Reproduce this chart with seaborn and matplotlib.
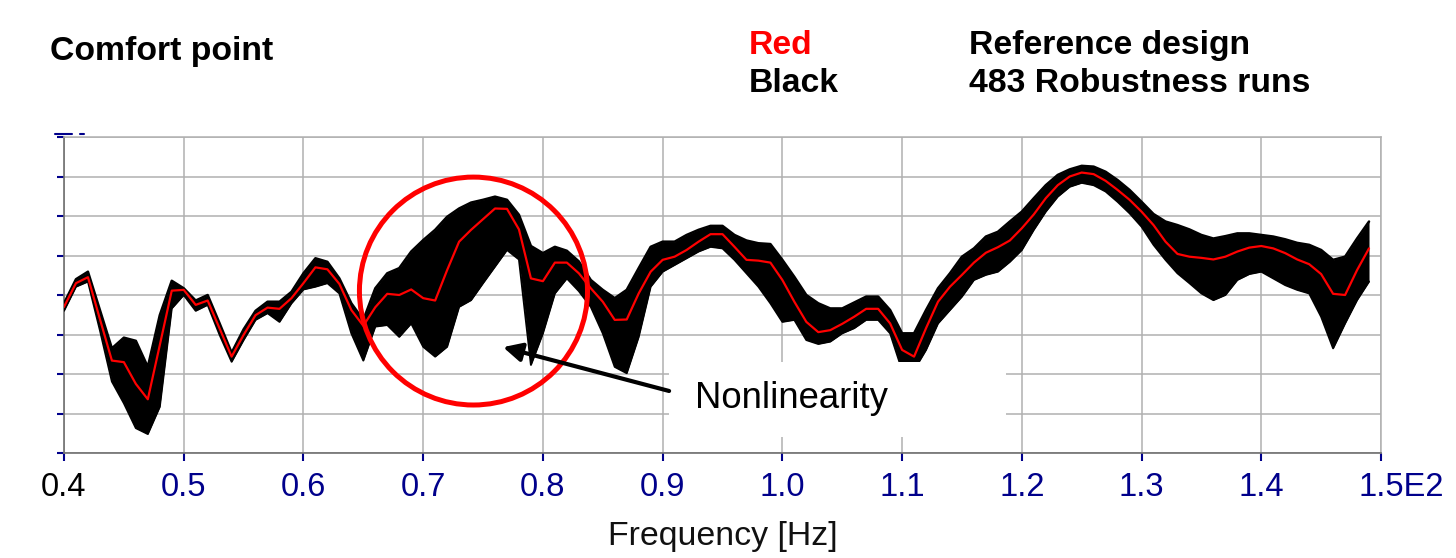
import numpy as np
import pandas as pd
import matplotlib
matplotlib.use('Agg')
import matplotlib.pyplot as plt
import seaborn as sns
from matplotlib.patches import Ellipse, Rectangle
from matplotlib.lines import Line2D
from matplotlib.transforms import ScaledTranslation

# ---------------- data ----------------
freq = [0.40, 0.41, 0.42, 0.43, 0.44, 0.45, 0.46, 0.47, 0.48, 0.49,
        0.50, 0.51, 0.52, 0.53, 0.54, 0.55, 0.56, 0.57, 0.58, 0.59,
        0.60, 0.61, 0.62, 0.63, 0.64, 0.65, 0.66, 0.67, 0.68, 0.69,
        0.70, 0.71, 0.72, 0.73, 0.74, 0.75, 0.76, 0.77, 0.78, 0.79,
        0.80, 0.81, 0.82, 0.83, 0.84, 0.85, 0.86, 0.87, 0.88, 0.89,
        0.90, 0.91, 0.92, 0.93, 0.94, 0.95, 0.96, 0.97, 0.98, 0.99,
        1.00, 1.01, 1.02, 1.03, 1.04, 1.05, 1.06, 1.07, 1.08, 1.09,
        1.10, 1.11, 1.12, 1.13, 1.14, 1.15, 1.16, 1.17, 1.18, 1.19,
        1.20, 1.21, 1.22, 1.23, 1.24, 1.25, 1.26, 1.27, 1.28, 1.29,
        1.30, 1.31, 1.32, 1.33, 1.34, 1.35, 1.36, 1.37, 1.38, 1.39,
        1.40, 1.41, 1.42, 1.43, 1.44, 1.45, 1.46, 1.47, 1.48, 1.49]

reference = [3.70, 4.30, 4.45, 3.39, 2.34, 2.30, 1.75, 1.36, 2.73, 4.11,
             4.13, 3.75, 3.86, 3.15, 2.44, 2.99, 3.49, 3.68, 3.65, 3.92,
             4.30, 4.70, 4.65, 4.28, 3.62, 3.22, 3.69, 4.03, 4.00, 4.14,
             3.92, 3.86, 4.63, 5.35, 5.65, 5.92, 6.19, 6.18, 5.66, 4.42,
             4.35, 4.82, 4.82, 4.55, 4.17, 3.83, 3.37, 3.38, 4.04, 4.59,
             4.89, 4.97, 5.14, 5.35, 5.54, 5.54, 5.22, 4.89, 4.87, 4.82,
             4.38, 3.83, 3.32, 3.06, 3.11, 3.27, 3.45, 3.65, 3.65, 3.28,
             2.61, 2.44, 3.16, 3.83, 4.21, 4.51, 4.82, 5.07, 5.21, 5.38,
             5.69, 6.04, 6.45, 6.78, 7.00, 7.10, 7.06, 6.89, 6.66, 6.41,
             6.11, 5.77, 5.35, 5.04, 4.97, 4.94, 4.90, 4.97, 5.10, 5.20,
             5.24, 5.18, 5.06, 4.90, 4.78, 4.53, 4.03, 4.00, 4.63, 5.18]

runs_upper = [3.79, 4.40, 4.59, 3.62, 2.65, 2.92, 2.84, 2.18, 3.49, 4.36,
              4.17, 3.86, 4.00, 3.28, 2.54, 3.13, 3.60, 3.83, 3.83, 4.08,
              4.55, 4.93, 4.84, 4.42, 3.79, 3.37, 4.17, 4.55, 4.68, 5.10,
              5.39, 5.65, 5.98, 6.19, 6.34, 6.41, 6.49, 6.41, 6.03, 5.24,
              5.06, 5.22, 5.12, 4.85, 4.38, 4.13, 3.92, 4.13, 4.68, 5.22,
              5.35, 5.35, 5.52, 5.65, 5.75, 5.75, 5.52, 5.38, 5.31, 5.29,
              4.89, 4.46, 4.00, 3.79, 3.66, 3.66, 3.81, 3.96, 3.96, 3.62,
              3.03, 3.03, 3.62, 4.17, 4.55, 4.97, 5.18, 5.48, 5.60, 5.86,
              6.11, 6.45, 6.78, 7.04, 7.18, 7.27, 7.25, 7.12, 6.91, 6.66,
              6.36, 6.05, 5.86, 5.77, 5.66, 5.52, 5.43, 5.49, 5.56, 5.56,
              5.52, 5.48, 5.41, 5.32, 5.27, 5.14, 4.89, 4.97, 5.43, 5.86]

runs_lower = [3.60, 4.21, 4.34, 3.11, 1.81, 1.26, 0.63, 0.48, 1.17, 3.66,
              4.00, 3.60, 3.75, 2.99, 2.31, 2.86, 3.37, 3.54, 3.32, 3.79,
              4.14, 4.21, 4.30, 4.04, 3.03, 2.34, 3.20, 3.24, 2.94, 3.28,
              2.69, 2.44, 2.69, 3.70, 3.87, 4.30, 4.72, 5.14, 4.90, 2.23,
              3.03, 4.04, 4.42, 4.10, 3.70, 3.03, 2.18, 2.02, 2.94, 4.21,
              4.59, 4.76, 4.93, 5.10, 5.22, 5.18, 4.89, 4.55, 4.21, 3.79,
              3.32, 3.37, 2.86, 2.76, 2.82, 3.03, 3.16, 3.37, 3.37, 3.03,
              2.10, 2.10, 2.61, 3.28, 3.62, 3.96, 4.38, 4.51, 4.59, 4.84,
              5.14, 5.65, 6.11, 6.49, 6.74, 6.84, 6.78, 6.62, 6.36, 6.07,
              5.73, 5.27, 4.89, 4.55, 4.30, 4.04, 3.87, 4.00, 4.38, 4.53,
              4.59, 4.42, 4.25, 4.13, 4.04, 3.45, 2.65, 3.28, 3.87, 4.34]

x_ticks = [0.4, 0.5, 0.6, 0.7, 0.8, 0.9, 1.0, 1.1, 1.2, 1.3, 1.4, 1.5]
x_tick_labels = ['0.4', '0.5', '0.6', '0.7', '0.8', '0.9', '1.0', '1.1',
                 '1.2', '1.3', '1.4', '1.5E2']
y_ticks = [0, 1, 2, 3, 4, 5, 6, 7, 8]

# ---------------- style ----------------
sns.set_theme(style='white')
plt.rcParams['font.family'] = ['Liberation Sans', 'DejaVu Sans']

W, H = 1456, 558
fig = plt.figure(figsize=(W / 100, H / 100), dpi=100)
ax = fig.add_axes([64 / W, 1 - 453 / H, (1381 - 64) / W, (453 - 137) / H])

df = pd.DataFrame({'freq': freq, 'reference': reference,
                   'upper': runs_upper, 'lower': runs_lower})

# black band of robustness runs
ax.fill_between(df['freq'], df['lower'], df['upper'], color='black',
                lw=0, zorder=2)
sns.lineplot(data=df, x='freq', y='upper', color='black', lw=1.8, ax=ax,
             zorder=3)
sns.lineplot(data=df, x='freq', y='lower', color='black', lw=1.4, ax=ax,
             zorder=3)
# red reference design
sns.lineplot(data=df, x='freq', y='reference', color='#ff0000', lw=1.6,
             ax=ax, zorder=4)

ax.set_xlim(0.4, 1.5)
ax.set_ylim(0, 8)
ax.set_xticks(x_ticks)
ax.set_xticklabels(x_tick_labels)
ax.set_yticks(y_ticks)
ax.set_yticklabels([])
ax.set_ylabel('')
ax.grid(True, color='#b0b0b0', lw=1.1, zorder=0)
ax.set_axisbelow(True)

navy = '#00008b'
ax.tick_params(axis='x', direction='out', length=6, width=1.5, colors=navy,
               labelsize=23.5, pad=7.5, bottom=True)
ax.tick_params(axis='y', direction='out', length=5, width=1.5, colors=navy,
               left=True)
xt = ax.get_xticklabels()
xt[0].set_color('black')
xt[-1].set_ha('left')
xt[-1].set_transform(xt[-1].get_transform() +
                     ScaledTranslation(-0.225, 0, fig.dpi_scale_trans))

for s in ['left', 'bottom']:
    ax.spines[s].set_color('#707070')
    ax.spines[s].set_linewidth(1.2)
for s in ['top', 'right']:
    ax.spines[s].set_color('#b0b0b0')
    ax.spines[s].set_linewidth(1.1)

ax.set_xlabel('Frequency [Hz]', fontsize=24.4, color='#111111', labelpad=13)

# annotation: white label box, arrow and red circle
ax.add_patch(Rectangle((0.9054, 0.405), 1.187 - 0.9054, 2.30 - 0.405,
                       facecolor='white', edgecolor='none', zorder=5))
ax.add_patch(Ellipse((0.742, 4.10), 0.1905, 5.77, fill=False,
                     edgecolor='#ff0000', lw=3.6, zorder=6))
ax.annotate('', xy=(0.7667, 2.68), xytext=(0.9054, 1.57),
            arrowprops=dict(arrowstyle='-|>', lw=3, color='black',
                            mutation_scale=28, shrinkA=0, shrinkB=0),
            zorder=7)
ax.text(1.0074, 1.14, 'Nonlinearity', fontsize=26.3, color='black',
        ha='center', va='baseline', zorder=8)

# header texts
fig.text(50 / W, 1 - 60 / H, 'Comfort point', fontsize=24.3,
         fontweight='bold', color='black', va='baseline', ha='left')
fig.text(749 / W, 1 - 54 / H, 'Red', fontsize=24.3, fontweight='bold',
         color='#ff0000', va='baseline', ha='left')
fig.text(749 / W, 1 - 92 / H, 'Black', fontsize=24.3, fontweight='bold',
         color='black', va='baseline', ha='left')
fig.text(969 / W, 1 - 54 / H, 'Reference design', fontsize=24.3,
         fontweight='bold', color='black', va='baseline', ha='left')
fig.text(969 / W, 1 - 92 / H, '483 Robustness runs', fontsize=24.3,
         fontweight='bold', color='black', va='baseline', ha='left')

# small clipped axis mark at top-left
fig.add_artist(Line2D([55 / W, 72 / W], [1 - 134 / H] * 2, color=navy,
                      lw=1.5, transform=fig.transFigure))
fig.add_artist(Line2D([80 / W, 84 / W], [1 - 134 / H] * 2, color=navy,
                      lw=1.5, transform=fig.transFigure))

fig.savefig('out.png', dpi=100, facecolor='white')
